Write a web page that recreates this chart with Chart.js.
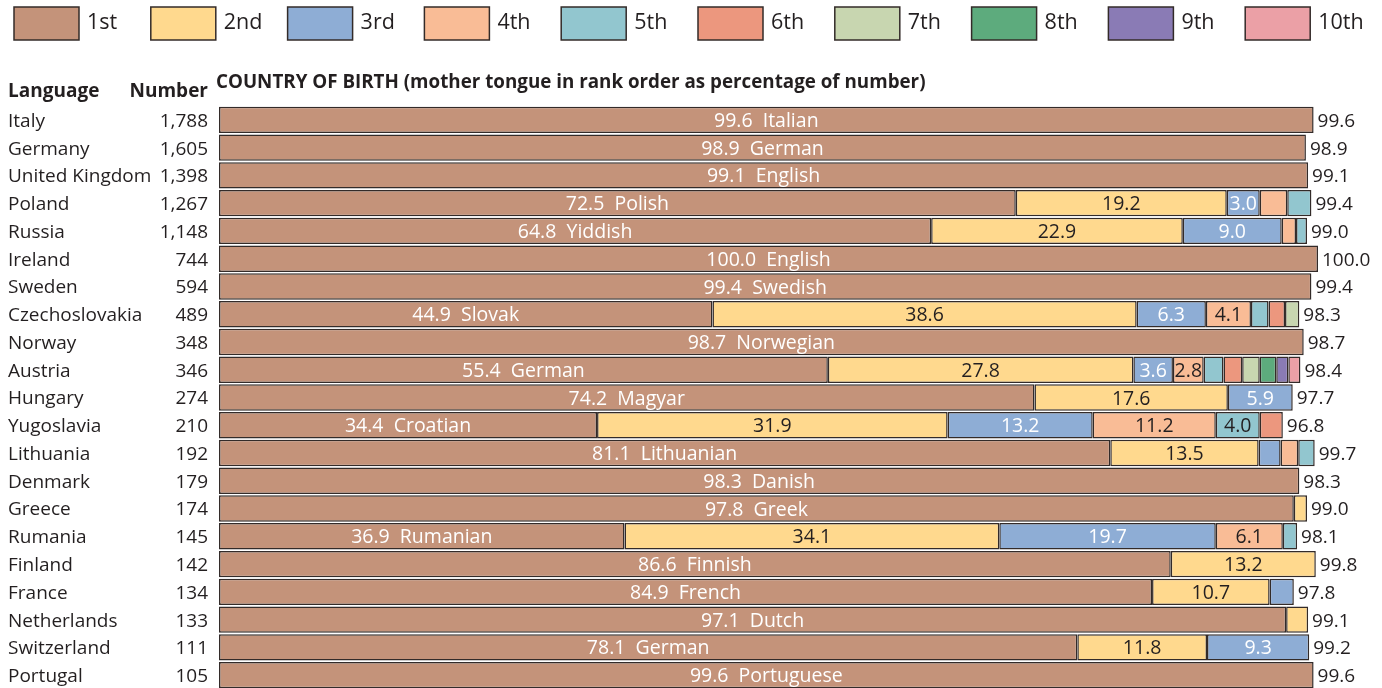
<!DOCTYPE html>
<html>
<head>
<meta charset="utf-8">
<script src="https://cdn.jsdelivr.net/npm/chart.js@4"></script>
<style>
  html, body { margin: 0; padding: 0; background: #fff; overflow: hidden; }
  #wrap { width: 1382px; height: 690px; }
</style>
</head>
<body>
<div id="wrap"><canvas id="chart" width="1382" height="690"></canvas></div>
<script>
// rows, top to bottom
let countries = ['Italy', 'Germany', 'United Kingdom', 'Poland', 'Russia', 'Ireland', 'Sweden',
  'Czechoslovakia', 'Norway', 'Austria', 'Hungary', 'Yugoslavia', 'Lithuania', 'Denmark', 'Greece',
  'Rumania', 'Finland', 'France', 'Netherlands', 'Switzerland', 'Portugal'];
let numbers = [1788, 1605, 1398, 1267, 1148, 744, 594, 489, 348, 346, 274, 210, 192, 179, 174,
  145, 142, 134, 133, 111, 105];
let languages = ['Italian', 'German', 'English', 'Polish', 'Yiddish', 'English', 'Swedish',
  'Slovak', 'Norwegian', 'German', 'Magyar', 'Croatian', 'Lithuanian', 'Danish', 'Greek',
  'Rumanian', 'Finnish', 'French', 'Dutch', 'German', 'Portuguese'];
let totals = [99.6, 98.9, 99.1, 99.4, 99.0, 100.0, 99.4, 98.3, 98.7, 98.4, 97.7, 96.8, 99.7,
  98.3, 99.0, 98.1, 99.8, 97.8, 99.1, 99.2, 99.6];

let rankLabels = ['1st', '2nd', '3rd', '4th', '5th', '6th', '7th', '8th', '9th', '10th'];
let rank1 = [99.6, 98.9, 99.1, 72.5, 64.8, 100.0, 99.4, 44.9, 98.7, 55.4, 74.2, 34.4, 81.1, 98.3, 97.8, 36.9, 86.6, 84.9, 97.1, 78.1, 99.6];
let rank2 = [0, 0, 0, 19.2, 22.9, 0, 0, 38.6, 0, 27.8, 17.6, 31.9, 13.5, 0, 1.2, 34.1, 13.2, 10.7, 2.0, 11.8, 0];
let rank3 = [0, 0, 0, 3.0, 9.0, 0, 0, 6.3, 0, 3.6, 5.9, 13.2, 2.0, 0, 0, 19.7, 0, 2.2, 0, 9.3, 0];
let rank4 = [0, 0, 0, 2.5, 1.3, 0, 0, 4.1, 0, 2.8, 0, 11.2, 1.6, 0, 0, 6.1, 0, 0, 0, 0, 0];
let rank5 = [0, 0, 0, 2.2, 1.0, 0, 0, 1.6, 0, 1.8, 0, 4.0, 1.5, 0, 0, 1.3, 0, 0, 0, 0, 0];
let rank6 = [0, 0, 0, 0, 0, 0, 0, 1.5, 0, 1.7, 0, 2.1, 0, 0, 0, 0, 0, 0, 0, 0, 0];
let rank7 = [0, 0, 0, 0, 0, 0, 0, 1.3, 0, 1.6, 0, 0, 0, 0, 0, 0, 0, 0, 0, 0, 0];
let rank8 = [0, 0, 0, 0, 0, 0, 0, 0, 0, 1.5, 0, 0, 0, 0, 0, 0, 0, 0, 0, 0, 0];
let rank9 = [0, 0, 0, 0, 0, 0, 0, 0, 0, 1.1, 0, 0, 0, 0, 0, 0, 0, 0, 0, 0, 0];
let rank10 = [0, 0, 0, 0, 0, 0, 0, 0, 0, 1.1, 0, 0, 0, 0, 0, 0, 0, 0, 0, 0, 0];

let colors = ['#C4937A', '#FFD98E', '#8EADD5', '#F9BC96', '#92C6CF', '#EC977E', '#C8D6B0', '#5DAB7D', '#8A7BB5', '#EBA0A6'];
let textColors = ['#fff', '#231f20', '#fff', '#231f20', '#231f20', '#231f20', '#231f20', '#231f20', '#231f20', '#231f20'];

let FONT = '"Open Sans", "Liberation Sans", sans-serif';
let INK = '#231f20';

let rankData = [rank1, rank2, rank3, rank4, rank5, rank6, rank7, rank8, rank9, rank10];
let datasets = rankData.map((d, i) => ({
  label: rankLabels[i],
  data: d.map(v => v || null),
  backgroundColor: colors[i],
  borderColor: '#332b29',
  borderWidth: 1.5,
  borderSkipped: false,
  barPercentage: 0.95,
  categoryPercentage: 1.0
}));

// legend, headers, row labels, segment values, totals
let textPlugin = {
  id: 'texts',
  afterDatasetsDraw(chart) {
    let ctx = chart.ctx;
    let yScale = chart.scales.y;
    ctx.save();

    // legend row
    chart.data.datasets.forEach((ds, i) => {
      let bx = 14 + i * 136.8;
      ctx.fillStyle = ds.backgroundColor;
      ctx.fillRect(bx, 7, 65, 33);
      ctx.strokeStyle = '#332b29';
      ctx.lineWidth = 1.5;
      ctx.strokeRect(bx, 7, 65, 33);
      ctx.fillStyle = INK;
      ctx.font = '21.5px ' + FONT;
      ctx.textAlign = 'left';
      ctx.textBaseline = 'middle';
      ctx.fillText(ds.label, bx + 73, 23);
    });

    // headers
    ctx.textBaseline = 'alphabetic';
    ctx.font = 'bold 19px ' + FONT;
    ctx.fillText('Language', 8, 97);
    ctx.textAlign = 'right';
    ctx.fillText('Number', 208, 97);
    ctx.textAlign = 'left';
    ctx.font = 'bold 18.8px ' + FONT;
    ctx.fillText('COUNTRY OF BIRTH (mother tongue in rank order as percentage of number)', 216, 88);

    // row labels
    ctx.textBaseline = 'middle';
    ctx.font = '19px ' + FONT;
    countries.forEach((c, i) => {
      let y = yScale.getPixelForValue(i) + 1.5;
      ctx.textAlign = 'left';
      ctx.fillText(c, 8, y);
      ctx.textAlign = 'right';
      ctx.fillText(numbers[i].toLocaleString('en-US'), 208, y);
    });

    // segment labels
    ctx.textAlign = 'center';
    ctx.font = '19.5px ' + FONT;
    chart.data.datasets.forEach((ds, di) => {
      let meta = chart.getDatasetMeta(di);
      meta.data.forEach((bar, i) => {
        let v = ds.data[i];
        if (!v || v < 2.7) return;
        let txt = v.toFixed(1);
        if (di === 0) txt += '  ' + languages[i];
        ctx.fillStyle = textColors[di];
        ctx.fillText(txt, (bar.x + bar.base) / 2, bar.y + 1.5);
      });
    });

    // totals at the bar ends
    ctx.textAlign = 'left';
    ctx.fillStyle = INK;
    ctx.font = '19px ' + FONT;
    totals.forEach((t, i) => {
      let x = chart.scales.x.getPixelForValue(t) + 4;
      ctx.fillText(t.toFixed(1), x, yScale.getPixelForValue(i) + 1.5);
    });
    ctx.restore();
  }
};

new Chart(document.getElementById('chart').getContext('2d'), {
  type: 'bar',
  data: { labels: countries, datasets: datasets },
  options: {
    indexAxis: 'y',
    responsive: false,
    animation: false,
    devicePixelRatio: 1,
    layout: { padding: { left: 219, right: 64, top: 106, bottom: 1 } },
    scales: {
      x: { stacked: true, min: 0, max: 100, display: false },
      y: { stacked: true, display: false }
    },
    plugins: {
      legend: { display: false },
      tooltip: { enabled: false }
    }
  },
  plugins: [textPlugin]
});
</script>
</body>
</html>
